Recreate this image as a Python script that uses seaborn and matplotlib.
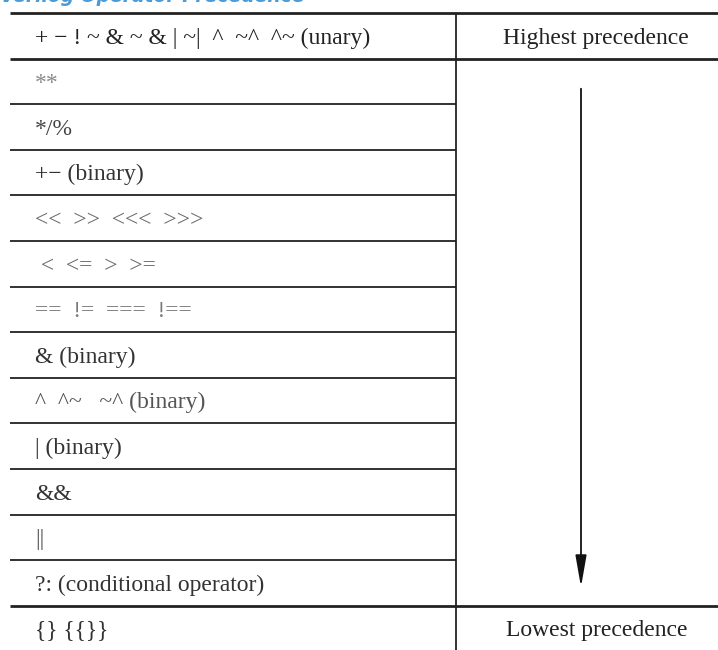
import matplotlib.pyplot as plt
import seaborn as sns

# Table content
operators = [
    "+ − ! ~ & ~ & | ~|  ^  ~^  ^~ (unary)",
    "**",
    "*/%",
    "+− (binary)",
    "<<  >>  <<<  >>>",
    " <  <=  >  >=",
    "==  !=  ===  !==",
    "& (binary)",
    "^  ^~   ~^ (binary)",
    "| (binary)",
    "&&",
    "||",
    "?: (conditional operator)",
    "{} {{}}",
]
text_colors = ["#222222", "#8a8a8a", "#444444", "#333333", "#6a6a6a", "#6a6a6a",
               "#7a7a7a", "#333333", "#555555", "#333333", "#333333", "#555555",
               "#333333", "#333333"]
top_label = "Highest precedence"
bottom_label = "Lowest precedence"
title = "Verilog Operator Precedence"

sns.set_theme(style="white")
plt.rcParams['font.family'] = ['Liberation Serif', 'DejaVu Serif']

fig = plt.figure(figsize=(7.18, 6.5), dpi=100)
ax = fig.add_axes([0, 0, 1, 1])
n = len(operators)
row_px = 45.6
top_px = 13
ax.set_xlim(0, 718)
ax.set_ylim((650 - top_px) / row_px, -top_px / row_px)
ax.axis("off")

# horizontal rules: full width for header/footer, left column only in between
for i in range(n + 1):
    if i in (0, 1, n - 1, n):
        ax.hlines(i, 10, 718, color="#222222", linewidth=2.0 if i < n else 1.0)
    else:
        ax.hlines(i, 10, 456, color="#222222", linewidth=1.3)
# column divider
ax.vlines(456, 0, n, color="#222222", linewidth=1.3)

# left column text
for i, (op, c) in enumerate(zip(operators, text_colors)):
    ax.text(35, i + 0.55, op, color=c, fontsize=17, va="center", ha="left")

# right column
ax.text(596, 0.55, top_label, color="#222222", fontsize=17, va="center", ha="center")
ax.text(597, n - 0.45, bottom_label, color="#222222", fontsize=17, va="center", ha="center")
ax.annotate("", xy=(581, n - 1.35), xytext=(581, 1.6),
            arrowprops=dict(arrowstyle="-|>,head_length=1.6,head_width=0.28",
                            color="#111111", linewidth=1.3))

# clipped title at the very top
fig.text(0.0, 1 - 2 / 650, title, color="#4b9bd8", fontsize=13.5, fontstyle="italic",
         fontweight="semibold", family="DejaVu Sans", va="baseline", ha="left")

fig.savefig("out.png", dpi=100, facecolor="white")
